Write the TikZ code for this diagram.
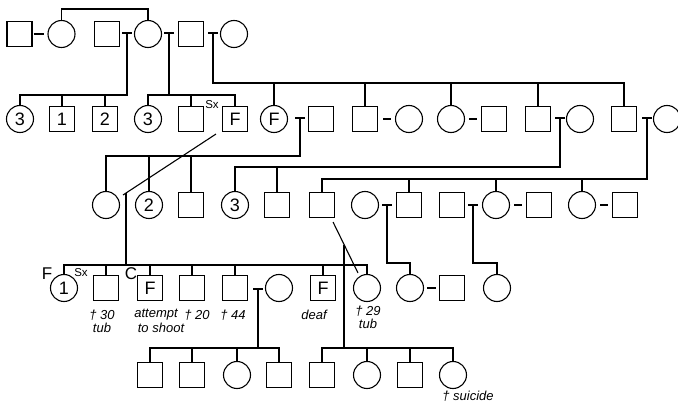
\documentclass[tikz,border=0pt]{standalone}
\usepackage{fontspec}
\setmainfont{Liberation Sans}
\begin{document}
\begin{tikzpicture}[x=1pt,y=-1pt,line width=1.1pt,
  male/.style={draw,rectangle,minimum size=25pt,inner sep=0pt,font=\fontsize{18}{18}\selectfont},
  female/.style={draw,circle,minimum size=27pt,inner sep=0pt,font=\fontsize{18}{18}\selectfont},
  note/.style={inner sep=0pt,font=\fontsize{13}{13}\selectfont\itshape},
  biglabel/.style={inner sep=0pt,font=\fontsize{17}{17}\selectfont},
  smalllabel/.style={inner sep=0pt,font=\fontsize{11.5}{11.5}\selectfont}]
\useasboundingbox (0,0) rectangle (678,404);
% ---------- generation I
\node[male]   (a1) at (19.5,34) {};
\node[female] (a2) at (61.5,34) {};
\node[male]   (a3) at (107,34) {};
\node[female] (a4) at (148,34) {};
\node[male]   (a5) at (191,34) {};
\node[female] (a6) at (234,34) {};
\coordinate (top) at (0,9);
\draw (a2.north) -- (a2.north |- top) -| (a4.north);
\draw[shorten <=1pt,shorten >=3pt] (a1.east) -- (a2.west);
\coordinate (m1) at (127,33);
\coordinate (m2) at (169,33);
\coordinate (m3) at (213,33);
\foreach \m in {m1,m2,m3} \draw ([xshift=-5pt]\m) -- ([xshift=5pt]\m);
% ---------- generation II
\node[female] (b1) at (20,119) {3};
\node[male]   (b2) at (62,119) {1};
\node[male]   (b3) at (105,119) {2};
\node[female] (b4) at (148,119) {3};
\node[male]   (b5) at (191,119) {};
\node[male]   (b6) at (235,119) {F};
\node[female] (b7) at (274,119) {F};
\node[male]   (b8) at (321,119) {};
\node[male]   (b9) at (365,119) {};
\node[female] (b10) at (409,119) {};
\node[female] (b11) at (451,119) {};
\node[male]   (b12) at (494,119) {};
\node[male]   (b13) at (538,119) {};
\node[female] (b14) at (580,119) {};
\node[male]   (b15) at (624,119) {};
\node[female] (b16) at (667,119) {};
\node[smalllabel] (sx1) at (212,105) {Sx};
\coordinate (s1) at (127,95);
\draw (m1) -- (s1) -| (b1.north);
\foreach \n in {b2,b3} \draw (\n.north) -- (\n.north |- s1);
\coordinate (s2) at (169,95);
\draw (m2) -- (s2);
\draw (b4.north) |- (s2) -| (b6.north);
\draw (b5.north) -- (b5.north |- s2);
\coordinate (s3) at (213,83);
\draw (m3) -- (s3) -| (b15.north);
\foreach \n in {b7,b9,b11,b13} \draw (\n.north) -- (\n.north |- s3);
\draw[shorten <=5pt,shorten >=4pt] (b9.east) -- (b10.west);
\draw[shorten <=4pt,shorten >=4pt] (b11.east) -- (b12.west);
\coordinate (m4) at (300,118);
\coordinate (m5) at (560,118);
\coordinate (m6) at (647,118);
\foreach \m in {m4,m5,m6} \draw ([xshift=-5pt]\m) -- ([xshift=5pt]\m);
% ---------- generation III
\node[female] (c1) at (106,205) {};
\node[female] (c2) at (149,205) {2};
\node[male]   (c3) at (191,205) {};
\node[female] (c4) at (235,205) {3};
\node[male]   (c5) at (277,205) {};
\node[male]   (c6) at (322,205) {};
\node[female] (c7) at (365,205) {};
\node[male]   (c8) at (409,205) {};
\node[male]   (c9) at (452,205) {};
\node[female] (c10) at (496,205) {};
\node[male]   (c11) at (539,205) {};
\node[female] (c12) at (582,205) {};
\node[male]   (c13) at (625,205) {};
\coordinate (s4) at (300,156);
\draw (m4) -- (s4) -| (c1.north);
\foreach \n in {c2,c3} \draw (\n.north) -- (\n.north |- s4);
\coordinate (s5) at (560,167);
\draw (m5) -- (s5) -| (c4.north);
\draw (c5.north) -- (c5.north |- s5);
\coordinate (s6) at (647,179);
\draw (m6) -- (s6) -| (c6.north);
\foreach \n in {c8,c10,c12} \draw (\n.north) -- (\n.north |- s6);
\draw[shorten <=4pt,shorten >=4pt] (c10.east) -- (c11.west);
\draw[shorten <=4pt,shorten >=4pt] (c12.east) -- (c13.west);
\coordinate (m7) at (387,205);
\coordinate (m8) at (473,205);
\foreach \m in {m7,m8} \draw ([xshift=-5pt]\m) -- ([xshift=5pt]\m);
% illegitimate union b6 -- c1
\coordinate (p2) at (123,195);
\draw ([shift={(-6,2)}]b6.south west) -- (p2);
\coordinate (u1) at (126,193);
% ---------- generation IV
\node[female] (d1) at (64,288) {1};
\node[male]   (d2) at (106,288) {};
\node[male]   (d3) at (150,288) {F};
\node[male]   (d4) at (192,288) {};
\node[male]   (d5) at (235,288) {};
\node[female] (d6) at (279,288) {};
\node[male]   (d7) at (323,288) {F};
\node[female] (d8) at (367,288) {};
\node[female] (d9) at (410,288) {};
\node[male]   (d10) at (452,288) {};
\node[female] (d11) at (497,288) {};
\coordinate (s7) at (126,265);
\draw (u1) -- (s7);
\draw (d1.north) |- (s7) -| (d8.north);
\foreach \n in {d2,d3,d4,d5,d7} \draw (\n.north) -- (\n.north |- s7);
\coordinate (s8) at (387,263);
\draw (m7) -- (s8) -| (d9.north);
\coordinate (s9) at (473,263);
\draw (m8) -- (s9) -| (d11.north);
\draw[shorten <=3pt,shorten >=3pt] (d9.east) -- (d10.west);
\coordinate (m9) at (258,289);
\draw ([xshift=-5pt]m9) -- ([xshift=5pt]m9);
% illegitimate union c6 -- d8
\coordinate (p4) at (358,273);
\draw ([shift={(-2,4)}]c6.south east) -- (p4);
\coordinate (u2) at (344,245);
% labels generation IV
\node[biglabel] (fl) at (47,274) {F};
\node[smalllabel] (sx2) at (81,273) {Sx};
\node[biglabel] (cl) at (131,274) {C};
\node[note] (n1) at (102,315) {† 30};
\node[note] (n2) at (102,328) {tub};
\node[note] (n3) at (156,315) {attempt};
\node[note] (n4) at (161,328) {to shoot};
\node[note] (n5) at (197,315) {† 20};
\node[note] (n6) at (233,315) {† 44};
\node[note] (n7) at (314,315) {deaf};
\node[note] (n8) at (368,311) {† 29};
\node[note] (n9) at (368,324) {tub};
% ---------- generation V
\node[male]   (e1) at (150,375) {};
\node[male]   (e2) at (192,375) {};
\node[female] (e3) at (237,375) {};
\node[male]   (e4) at (279,375) {};
\node[male]   (e5) at (322,375) {};
\node[female] (e6) at (367,375) {};
\node[male]   (e7) at (410,375) {};
\node[female] (e8) at (453,375) {};
\coordinate (s10) at (258,348);
\draw (m9) -- (s10);
\draw (e1.north) |- (s10) -| (e4.north);
\foreach \n in {e2,e3} \draw (\n.north) -- (\n.north |- s10);
\coordinate (s11) at (344,348);
\draw (u2) -- (s11);
\draw (e5.north) |- (s11) -| (e8.north);
\foreach \n in {e6,e7} \draw (\n.north) -- (\n.north |- s11);
\node[note] (n10) at (468,396) {† suicide};
\end{tikzpicture}
\end{document}
